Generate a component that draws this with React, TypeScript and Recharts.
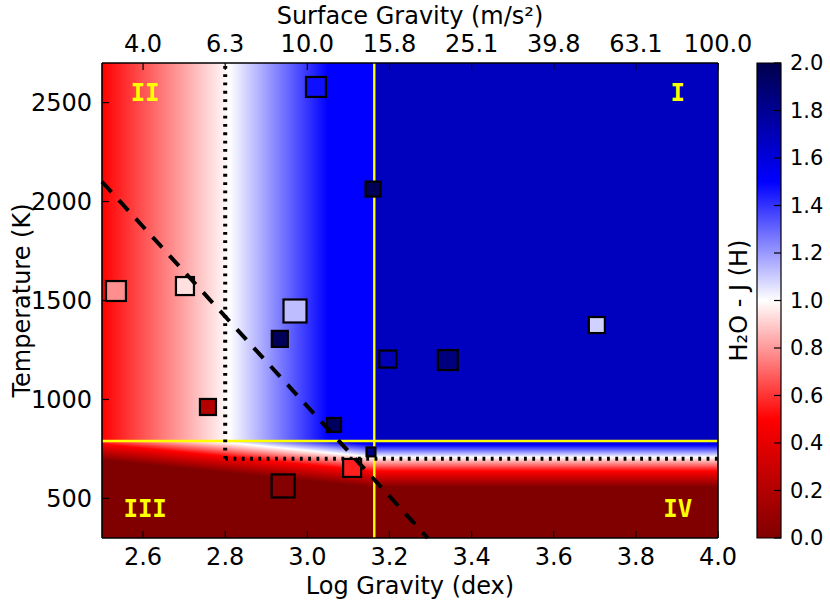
import React from "react";
import {
  ScatterChart,
  Scatter,
  XAxis,
  YAxis,
  ZAxis,
  ReferenceArea,
  ReferenceLine,
} from "recharts";

// ==================== DATA ====================

// objects: log g (dex), Teff (K), H2O - J index, relative marker area
const LOGG = [3.021, 3.16, 2.534, 2.702, 2.97, 2.933, 3.196, 3.342, 3.705, 2.758, 3.065, 3.155, 3.109, 2.941];
const TEFF = [2579, 2063, 1548, 1573, 1447, 1306, 1204, 1199, 1376, 962, 871, 735, 654, 563];
const INDEX = [1.47, 1.97, 0.78, 0.94, 1.13, 1.96, 1.7, 1.86, 1.09, 0.21, 1.94, 1.85, 0.56, 0.02];
const WEIGHT = [0.77, 0.46, 0.77, 0.64, 1.0, 0.52, 0.58, 0.77, 0.52, 0.52, 0.41, 0.19, 0.64, 1.0];

// quadrant labels
const ZONE_NAMES = ["I", "II", "III", "IV"];
const ZONE_LOGG = [3.902, 2.605, 2.605, 3.902];
const ZONE_TEFF = [2548, 2548, 446, 446];

// dividing lines
const SPLIT_LOGG = 3.163;
const SPLIT_TEFF = 790;
const DOT_LOGG = 2.8;
const DOT_TEFF = 700;
const DASH_LINE = [
  { logg: 2.5, teff: 2100 },
  { logg: 3.293, teff: 300 },
];

// background index field
const UPPER_LOGG = [2.5, 2.81, 3.05];
const UPPER_VAL = [0.5, 1.0, 1.5];
const UPPER_RIGHT_VAL = 1.68;
const LOWER_TEFF = [790, 770, 709, 638, 558];
const LOWER_VAL = [1.62, 1.5, 1.0, 0.5, 0.0];

// axes
const X_DOMAIN = [2.5, 4.0];
const Y_DOMAIN = [300, 2700];
const X_TICKS = [2.6, 2.8, 3.0, 3.2, 3.4, 3.6, 3.8, 4.0];
const Y_TICKS = [500, 1000, 1500, 2000, 2500];
const CB_DOMAIN = [0, 2];
const CB_TICKS = [0, 0.2, 0.4, 0.6, 0.8, 1.0, 1.2, 1.4, 1.6, 1.8, 2.0];

// seismic_r colormap
const CMAP_V = [0, 0.5, 1, 1.5, 2];
const CMAP_RGB = [
  [128, 0, 0],
  [255, 0, 0],
  [255, 255, 255],
  [0, 0, 255],
  [0, 0, 76],
];

// ==================== HELPERS ====================

const FONT = "DejaVu Sans";
const TILT = 0.1;

const cmap = (v: number) => {
  const t = Math.max(CMAP_V[0], Math.min(CMAP_V[CMAP_V.length - 1], v));
  let i = 0;
  while (i < CMAP_V.length - 2 && t > CMAP_V[i + 1]) i++;
  const f = (t - CMAP_V[i]) / (CMAP_V[i + 1] - CMAP_V[i]);
  const c = CMAP_RGB[i].map((a, k) => Math.round(a + (CMAP_RGB[i + 1][k] - a) * f));
  return `rgb(${c[0]},${c[1]},${c[2]})`;
};

const points = LOGG.map((g, i) => ({ logg: g, teff: TEFF[i], index: INDEX[i], z: WEIGHT[i] }));
const zones = ZONE_NAMES.map((n, i) => ({ name: n, logg: ZONE_LOGG[i], teff: ZONE_TEFF[i] }));
const cbarData = CB_TICKS.map((v) => ({ x: 0.5, v }));

const upperStops = UPPER_LOGG.map((g, i) => (
  <stop
    key={i}
    offset={(g - X_DOMAIN[0]) / (SPLIT_LOGG - X_DOMAIN[0])}
    stopColor={cmap(UPPER_VAL[i])}
  />
));

const lowerStops = LOWER_TEFF.map((t, i) => (
  <stop
    key={i}
    offset={(SPLIT_TEFF - t) / (SPLIT_TEFF - Y_DOMAIN[0])}
    stopColor={cmap(LOWER_VAL[i])}
  />
));

const cbarStops = CMAP_V.map((v, i) => (
  <stop key={i} offset={v / CB_DOMAIN[1]} stopColor={cmap(v)} />
));

const TiltedLower = (props: any) => {
  const { x, y, width, height } = props;
  const xr = x + width;
  return (
    <g>
      <defs>
        <linearGradient
          id="lowTilt"
          gradientUnits="userSpaceOnUse"
          x1={xr}
          y1={y}
          x2={xr - TILT * height}
          y2={y + height}
        >
          {lowerStops}
        </linearGradient>
      </defs>
      <rect x={x} y={y} width={width} height={height} fill="url(#lowTilt)" />
    </g>
  );
};

const SquareMarker = (props: any) => {
  const { cx, cy, width, payload } = props;
  const s = width - 2;
  return (
    <rect
      x={cx - s / 2}
      y={cy - s / 2}
      width={s}
      height={s}
      fill={cmap(payload.index)}
      stroke="#000"
      strokeWidth={2.2}
    />
  );
};

const ZoneLabel = (props: any) => {
  const { cx, cy, payload } = props;
  return (
    <text
      x={cx}
      y={cy}
      textAnchor="middle"
      dominantBaseline="central"
      fill="#ffff00"
      fontFamily="DejaVu Sans Mono"
      fontWeight="bold"
      fontSize={24}
    >
      {payload.name}
    </text>
  );
};

const Nothing = () => <g />;

const tickStyle = { fontSize: 24, fill: "#000", fontFamily: FONT };
const tickLineStyle = { stroke: "#000", strokeWidth: 1.2 };
const axisLineStyle = { stroke: "#000", strokeWidth: 1.6 };
const labelStyle = { fontSize: 24, fill: "#000", fontFamily: FONT };

// ==================== APP ====================

export default function App() {
  return (
    <div
      style={{
        position: "absolute",
        left: 0,
        top: 0,
        width: 830,
        height: 604,
        background: "#fff",
        fontFamily: FONT,
      }}
    >
      <div style={{ position: "absolute", left: 0, top: 0 }}>
        <ScatterChart width={830} height={604} margin={{ top: 0, right: 0, bottom: 0, left: 0 }}>
          <defs>
            <linearGradient id="upperGrad" x1="0" y1="0" x2="1" y2="0">
              {upperStops}
            </linearGradient>
            <linearGradient id="lowerGrad" x1="0" y1="0" x2="0" y2="1">
              {lowerStops}
            </linearGradient>
          </defs>
          <XAxis
            xAxisId={0}
            type="number"
            dataKey="logg"
            orientation="bottom"
            domain={X_DOMAIN}
            ticks={X_TICKS}
            interval={0}
            height={66}
            tickFormatter={(v: number) => v.toFixed(1)}
            tick={tickStyle}
            tickSize={-7}
            tickMargin={17}
            tickLine={tickLineStyle}
            axisLine={axisLineStyle}
            label={{ value: "Log Gravity (dex)", position: "insideBottom", offset: 10, style: labelStyle }}
          />
          <XAxis
            xAxisId="top"
            type="number"
            dataKey="logg"
            orientation="top"
            domain={X_DOMAIN}
            ticks={X_TICKS}
            interval={0}
            height={63}
            tickFormatter={(v: number) => (Math.pow(10, v) / 100).toFixed(1)}
            tick={tickStyle}
            tickSize={-7}
            tickMargin={18}
            tickLine={tickLineStyle}
            axisLine={axisLineStyle}
            label={{ value: "Surface Gravity (m/s²)", position: "insideTop", offset: 7, style: labelStyle }}
          />
          <YAxis
            yAxisId={0}
            type="number"
            dataKey="teff"
            orientation="left"
            domain={Y_DOMAIN}
            ticks={Y_TICKS}
            interval={0}
            width={102}
            tick={tickStyle}
            tickSize={-7}
            tickMargin={17}
            tickLine={tickLineStyle}
            axisLine={axisLineStyle}
            label={{
              value: "Temperature (K)",
              angle: -90,
              position: "insideLeft",
              offset: 21,
              style: { ...labelStyle, textAnchor: "middle" },
            }}
          />
          <YAxis
            yAxisId="right"
            type="number"
            dataKey="teff"
            orientation="right"
            domain={Y_DOMAIN}
            ticks={Y_TICKS}
            interval={0}
            width={112}
            tick={false}
            tickSize={-7}
            tickLine={tickLineStyle}
            axisLine={axisLineStyle}
          />
          <ZAxis type="number" dataKey="z" domain={[0, 1]} range={[0, (Math.PI * 25 * 25) / 4]} />

          <ReferenceArea
            x1={X_DOMAIN[0]}
            x2={SPLIT_LOGG}
            y1={SPLIT_TEFF}
            y2={Y_DOMAIN[1]}
            fill="url(#upperGrad)"
            fillOpacity={1}
            stroke="none"
          />
          <ReferenceArea
            x1={SPLIT_LOGG}
            x2={X_DOMAIN[1]}
            y1={SPLIT_TEFF}
            y2={Y_DOMAIN[1]}
            fill={cmap(UPPER_RIGHT_VAL)}
            fillOpacity={1}
            stroke="none"
          />
          <ReferenceArea
            x1={X_DOMAIN[0]}
            x2={SPLIT_LOGG}
            y1={Y_DOMAIN[0]}
            y2={SPLIT_TEFF}
            shape={TiltedLower}
            fillOpacity={1}
            stroke="none"
          />
          <ReferenceArea
            x1={SPLIT_LOGG}
            x2={X_DOMAIN[1]}
            y1={Y_DOMAIN[0]}
            y2={SPLIT_TEFF}
            fill="url(#lowerGrad)"
            fillOpacity={1}
            stroke="none"
          />

          <ReferenceLine x={SPLIT_LOGG} stroke="#ffff00" strokeWidth={2.4} />
          <ReferenceLine y={SPLIT_TEFF} stroke="#ffff00" strokeWidth={2.4} />
          <ReferenceLine
            segment={[
              { x: DOT_LOGG, y: DOT_TEFF },
              { x: DOT_LOGG, y: Y_DOMAIN[1] },
            ]}
            stroke="#000"
            strokeWidth={4}
            strokeDasharray="2.8 5.5"
          />
          <ReferenceLine
            segment={[
              { x: DOT_LOGG, y: DOT_TEFF },
              { x: X_DOMAIN[1], y: DOT_TEFF },
            ]}
            stroke="#000"
            strokeWidth={4}
            strokeDasharray="2.8 5.5"
          />

          <Scatter data={points} shape={SquareMarker} isAnimationActive={false} />
          <Scatter
            data={zones}
            xAxisId="top"
            yAxisId="right"
            shape={ZoneLabel}
            isAnimationActive={false}
          />

          <ReferenceLine
            segment={DASH_LINE.map((p) => ({ x: p.logg, y: p.teff }))}
            stroke="#000"
            strokeWidth={4}
            strokeDasharray="14 11"
            zIndex={700}
          />
        </ScatterChart>
      </div>

      <div style={{ position: "absolute", left: 0, top: 0 }}>
        <ScatterChart width={830} height={604} margin={{ top: 63, right: 0, bottom: 66, left: 717 }}>
          <defs>
            <linearGradient id="cbarGrad" x1="0" y1="1" x2="0" y2="0">
              {cbarStops}
            </linearGradient>
          </defs>
          <XAxis xAxisId={0} type="number" dataKey="x" domain={[0, 1]} hide />
          <YAxis
            yAxisId="lbl"
            type="number"
            dataKey="v"
            orientation="left"
            domain={CB_DOMAIN}
            width={40}
            tick={false}
            tickLine={false}
            axisLine={false}
            label={{
              value: "H₂O - J (H)",
              angle: -90,
              position: "insideLeft",
              offset: 21,
              style: { ...labelStyle, textAnchor: "middle" },
            }}
          />
          <YAxis
            yAxisId={0}
            type="number"
            dataKey="v"
            orientation="right"
            domain={CB_DOMAIN}
            ticks={CB_TICKS}
            interval={0}
            width={49}
            tickFormatter={(v: number) => v.toFixed(1)}
            tick={{ fontSize: 21, fill: "#000", fontFamily: FONT }}
            tickSize={-7}
            tickMargin={16}
            tickLine={tickLineStyle}
            axisLine={false}
          />
          <ReferenceArea
            x1={0}
            x2={1}
            y1={CB_DOMAIN[0]}
            y2={CB_DOMAIN[1]}
            fill="url(#cbarGrad)"
            fillOpacity={1}
            stroke="#000"
            strokeWidth={1.2}
          />
          <Scatter data={cbarData} shape={Nothing} isAnimationActive={false} />
          <Scatter data={cbarData} yAxisId="lbl" shape={Nothing} isAnimationActive={false} />
        </ScatterChart>
      </div>
    </div>
  );
}
